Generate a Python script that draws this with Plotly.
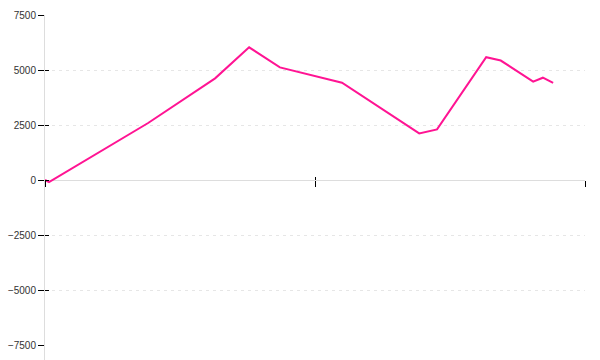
import plotly.graph_objects as go

x_vals = [0, 0.74, 19.1, 31.5, 37.8, 43.5, 55.0, 69.3, 72.6, 81.7, 84.4, 90.4, 92.2, 94.1]
y_vals = [0, -100, 2590, 4620, 6030, 5120, 4420, 2120, 2300, 5580, 5430, 4470, 4650, 4410]
y_ticks = [-7500, -5000, -2500, 0, 2500, 5000, 7500]
x_ticks = [0, 50, 100]
x_range = [0, 100]
y_range = [-7500, 7500]

fig = go.Figure()
fig.add_trace(go.Scatter(x=x_vals, y=y_vals, mode="lines",
                         line=dict(color="#ff1493", width=2), hoverinfo="skip",
                         showlegend=False))
# invisible helper trace for overlay axes (crossing tick marks)
fig.add_trace(go.Scatter(x=[x_range[0]], y=[y_range[0]], xaxis="x2", yaxis="y2",
                         mode="markers", marker=dict(opacity=0), showlegend=False,
                         hoverinfo="skip"))

fig.update_layout(
    width=600, height=360,
    margin=dict(l=45, r=15, t=15, b=15, autoexpand=False),
    paper_bgcolor="white", plot_bgcolor="white",
    font=dict(family="Liberation Sans, Arial, sans-serif", size=10, color="#333"),
    xaxis=dict(range=x_range, tickvals=x_ticks, showticklabels=False,
               ticks="outside", ticklen=6, tickcolor="black", tickwidth=1,
               showgrid=False, zeroline=False, showline=False, automargin=False,
               anchor="free", position=0.5),
    xaxis2=dict(range=x_range, tickvals=x_ticks, showticklabels=False,
                ticks="inside", ticklen=3, tickcolor="black", tickwidth=1,
                showgrid=False, zeroline=False, showline=False, automargin=False,
                overlaying="x", anchor="free", position=0.5),
    yaxis=dict(range=y_range, tickvals=y_ticks, ticks="outside", ticklen=6,
               tickcolor="black", tickwidth=1, automargin=False,
               showgrid=True, gridcolor="#e6e6e6", gridwidth=1, griddash="3px,4px",
               zeroline=True, zerolinecolor="#dddddd", zerolinewidth=1,
               showline=True, linecolor="#dddddd", linewidth=1),
    yaxis2=dict(range=y_range, tickvals=y_ticks, showticklabels=False,
                ticks="inside", ticklen=4, tickcolor="black", tickwidth=1,
                showgrid=False, zeroline=False, showline=False, automargin=False,
                overlaying="y", side="left", anchor="x"),
    shapes=[dict(type="line", xref="paper", yref="paper", x0=-0.5/540, x1=-0.5/540,
                 y0=-15/330, y1=0, line=dict(color="#dddddd", width=1), layer="below")],
)

fig.write_html("out.html")
